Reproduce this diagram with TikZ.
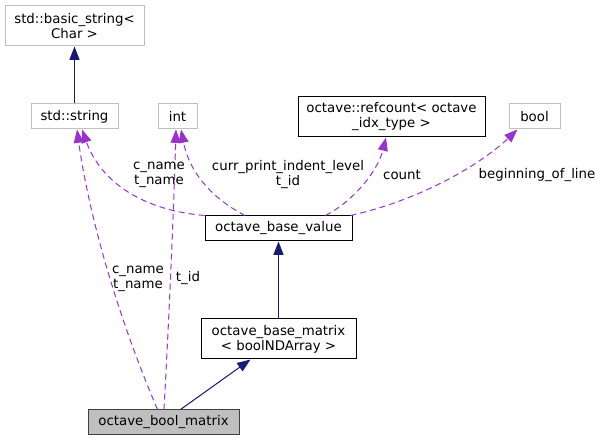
\documentclass[tikz,border=0pt]{standalone}
\usepackage{fontspec}
\setmainfont{DejaVu Sans}
\usetikzlibrary{arrows.meta,calc}
\definecolor{navy}{HTML}{191970}
\definecolor{orch}{HTML}{9A32CD}
\definecolor{gry}{HTML}{BFBFBF}
\tikzset{
  box/.style={draw=black, line width=0.75pt, inner sep=0pt, align=center,
    font=\fontsize{10pt}{11.25pt}\selectfont, minimum height=18.75pt},
  gbox/.style={box, draw=gry},
  two/.style={minimum height=30pt},
  inh/.style={draw=navy, line width=0.75pt, -{Triangle[length=10pt,width=7.5pt]}},
  use/.style={draw=orch, line width=0.75pt, dash pattern=on 4.5pt off 3pt,
    -{Triangle[length=10pt,width=7.5pt]}},
  lbl/.style={align=center, inner sep=0pt, font=\fontsize{10pt}{11.25pt}\selectfont}
}
\begin{document}
\begin{tikzpicture}[x=0.75pt,y=-0.75pt]
\useasboundingbox (0,0) rectangle (601,441);
\node[gbox,two,minimum width=104.25pt] (bs) at (74.5,26) {std::basic\_string\textless\\Char \textgreater};
\node[gbox,minimum width=65.25pt] (str) at (74.5,116.5) {std::string};
\node[gbox,minimum width=29.25pt] (int) at (177.5,116.5) {int};
\node[box,two,minimum width=140.25pt] (rc) at (391.5,117) {octave::refcount\textless{} octave\\\_idx\_type \textgreater};
\node[gbox,minimum width=38.25pt] (bool) at (534.5,116.5) {bool};
\node[box,minimum width=110.25pt] (bv) at (278.5,228.5) {octave\_base\_value};
\node[box,two,minimum width=116.25pt] (bmx) at (278.5,339) {octave\_base\_matrix\\\textless{} boolNDArray \textgreater};
\node[box,draw=black!75,fill=gry,minimum width=113.25pt] (bm) at (163.5,422.5) {octave\_bool\_matrix};

\draw[inh] (str) -- (bs);
\draw[inh] (bmx) -- (bv);
\draw[inh] ($(bm.north)+(17,0)$) -- ($(bmx.south)+(-28,0)$);

\draw[use] ($(bm.north)+(-6,0)$) .. controls (115,310) and (88,210) .. ($(str.south)+(2.5,0)$);
\draw[use] ($(bm.north)+(0.5,0)$) .. controls (170,300) and (174,200) .. ($(int.south)+(-1.5,0)$);
\draw[use] (bv.north west) .. controls (140,210) and (100,180) .. ($(str.south)+(7.5,0)$);
\draw[use] ($(bv.north)+(-33.5,0)$) .. controls (215,200) and (190,175) .. ($(int.south)+(3.5,0)$);
\draw[use] ($(bv.north)+(47,0)$) .. controls (355,200) and (378,170) .. ($(rc.south)+(-5.5,0)$);
\draw[use] ($(bv.north east)+(-2,0)$) .. controls (420,200) and (480,165) .. ($(bool.south)+(-17,0)$);

\node[lbl] (l1) at (138,279) {c\_name\\t\_name};
\node[lbl] (l2) at (188,278) {t\_id};
\node[lbl] (l3) at (159,175) {c\_name\\t\_name};
\node[lbl] (l4) at (288,175) {curr\_print\_indent\_level\\t\_id};
\node[lbl] (l5) at (402,175) {count};
\node[lbl] (l6) at (537,175) {beginning\_of\_line};
\end{tikzpicture}
\end{document}
